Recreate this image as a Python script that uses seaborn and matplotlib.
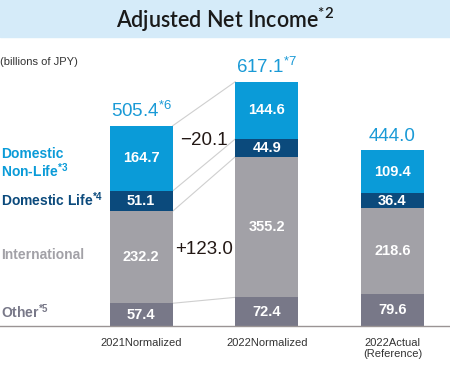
import matplotlib
matplotlib.use("Agg")
import matplotlib.pyplot as plt
import seaborn as sns
import pandas as pd
import numpy as np

# Data
categories = ["2021Normalized", "2022Normalized", "2022Actual\n(Reference)"]
other = [57.4, 72.4, 79.6]
international = [232.2, 355.2, 218.6]
domestic_life = [51.1, 44.9, 36.4]
domestic_nonlife = [164.7, 144.6, 109.4]
totals = [505.4, 617.1, 444.0]
total_notes = ["*6", "*7", ""]
change_domestic = "\u221220.1"
change_international = "+123.0"

segments = ["Other", "International", "Domestic Life", "Domestic Non-Life"]
seg_values = [other, international, domestic_life, domestic_nonlife]
seg_colors = ["#787888", "#a2a1a7", "#0b4a7c", "#0a9bd8"]
seg_labels = [("Other", "*5"), ("International", ""), ("Domestic Life", "*4"), ("Domestic\nNon-Life", "*3")]

sns.set_style("white")
plt.rcParams["font.family"] = ["Liberation Sans", "DejaVu Sans"]
plt.rcParams["mathtext.default"] = "regular"

W, H = 450, 365
fig = plt.figure(figsize=(W / 100, H / 100), dpi=100)

# title band
fig.patches.append(plt.Rectangle((0, 1 - 37 / H), 1, 37 / H, transform=fig.transFigure,
                                 color="#d5ebf9", zorder=0))
fig.text(0.5, 1 - 20 / H, "Adjusted Net Income$^{*2}$", ha="center", va="center",
         fontsize=15.5, family=["Lato", "DejaVu Sans"], fontweight="semibold", color="#1a1a1a")
fig.text(0.0, 1 - 62 / H, "(billions of JPY)", ha="left", va="center", fontsize=8, color="#333333")

base_px = 326
top_px = 40
scale = 0.396
ax = fig.add_axes([0, (H - base_px) / H, 1, (base_px - top_px) / H])

cum = np.cumsum(np.array(seg_values), axis=0)
df = pd.DataFrame({"category": categories})
for i in range(len(segments) - 1, -1, -1):
    df["v"] = cum[i]
    sns.barplot(data=df, x="category", y="v", color=seg_colors[i], width=0.5,
                saturation=1, ax=ax, linewidth=0, zorder=2)

ax.set_ylim(0, (base_px - top_px) / scale)
ax.set_xlim(-141 / 125.5, 2 + (W - 392.5) / 125.5)

# segment value labels
for i, vals in enumerate(seg_values):
    for j, v in enumerate(vals):
        y = cum[i][j] - v / 2
        ax.text(j, y, f"{v:.1f}", ha="center", va="center", color="white",
                fontsize=10.5, fontweight="bold", zorder=4)

# totals
for j, t in enumerate(totals):
    lbl = f"{t:.1f}"
    if total_notes[j]:
        lbl += f"$^{{{total_notes[j]}}}$"
    ax.text(j, t + 12, lbl, ha="center", va="bottom", color="#1a9ad6", fontsize=13.5, zorder=4)

# connector lines between bar 1 and bar 2
bounds0 = [cum[0][0], cum[1][0], cum[2][0], cum[3][0]]
bounds1 = [cum[0][1], cum[1][1], cum[2][1], cum[3][1]]
for b0, b1 in zip(bounds0, bounds1):
    ax.plot([0.25, 0.75], [b0, b1], color="#cfcfcf", lw=0.8, zorder=1)

# change annotations
ax.text(0.5, (cum[1][0] + cum[3][0]) / 2 + 70, change_domestic, ha="center", va="center",
        fontsize=13.5, color="#231815", zorder=4)
ax.text(0.5, (cum[0][0] + cum[1][0]) / 2 + 20, change_international, ha="center", va="center",
        fontsize=13.5, color="#231815", zorder=4)

# left-side segment labels
left_y = [35, 180, 320, 410]
for (name, note), col, y in zip(seg_labels, seg_colors, left_y):
    lbl = name + (f"$^{{{note}}}$" if note else "")
    ax.text(-141 / 125.5 + 0.005, y, lbl, ha="left", va="center", color=col,
            fontsize=10, fontweight="bold", linespacing=1.0, zorder=4)

# axes styling
sns.despine(ax=ax, left=True, top=True, right=True)
ax.spines["bottom"].set_color("#9a9494")
ax.spines["bottom"].set_linewidth(1.0)
ax.set_yticks([])
ax.set_xlabel("")
ax.set_ylabel("")
ax.set_xticks([0, 1, 2])
ax.set_xticklabels(categories, fontsize=8, color="#333333", linespacing=1.1)
ax.tick_params(axis="x", which="major", length=0, pad=9)
ax.set_xticks([0.5, 1.5], minor=True)
ax.tick_params(axis="x", which="minor", length=6, width=1.0, color="#9a9494", direction="out")
ax.patch.set_alpha(0)

fig.savefig("out.png", dpi=100)
